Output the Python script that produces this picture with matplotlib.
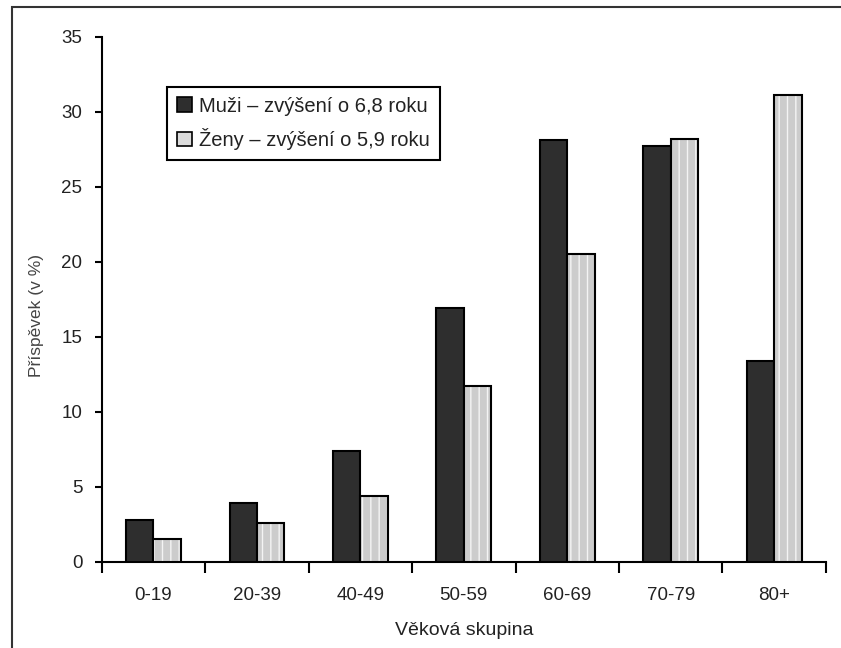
import numpy as np
import matplotlib.pyplot as plt
from matplotlib.patches import Patch, Rectangle

plt.rcParams['font.family'] = ['Liberation Sans', 'DejaVu Sans']

# data
skupiny = ['0-19', '20-39', '40-49', '50-59', '60-69', '70-79', '80+']
muzi = [2.8, 3.9, 7.4, 16.9, 28.1, 27.7, 13.4]
zeny = [1.5, 2.6, 4.4, 11.7, 20.5, 28.2, 31.1]
label_muzi = 'Muži – zvýšení o 6,8 roku'
label_zeny = 'Ženy – zvýšení o 5,9 roku'

fig = plt.figure(figsize=(8.41, 6.48), dpi=100)
ax = fig.add_axes([0.121, 0.133, 0.861, 0.81])

x = np.arange(len(skupiny))
w = 0.265
txt = '#222222'
dark = '#2e2e2e'
light = '#cccccc'

plt.rcParams['hatch.linewidth'] = 1.0

ax.bar(x - w / 2, muzi, w, color=dark, edgecolor='black', linewidth=1.5, zorder=3)
# women: light dotted fill, then a black outline on top
ax.bar(x + w / 2, zeny, w, color=light, edgecolor='#f4f4f4', hatch='||',
       linewidth=0, zorder=3)
ax.bar(x + w / 2, zeny, w, facecolor='none', edgecolor='black', linewidth=1.5, zorder=4)

ax.set_xlim(-0.5, len(skupiny) - 0.5)
ax.set_ylim(0, 35)
ax.set_yticks(np.arange(0, 36, 5))
ax.set_xticks(np.arange(len(skupiny) + 1) - 0.5)
ax.set_xticklabels([])
ax.set_xticks(x, minor=True)
ax.set_xticklabels(skupiny, minor=True)
ax.tick_params(axis='x', which='major', length=8, width=1.5, direction='out')
ax.tick_params(axis='x', which='minor', length=0, pad=18, labelsize=13.5, labelcolor=txt)
ax.tick_params(axis='y', length=5, width=1.5, direction='out', pad=9,
               labelsize=13.5, labelcolor=txt)

for s in ['top', 'right']:
    ax.spines[s].set_visible(False)
for s in ['left', 'bottom']:
    ax.spines[s].set_linewidth(1.5)

ax.set_xlabel('Věková skupina', fontsize=14, color=txt)
ax.xaxis.set_label_coords(0.5, -0.114)
ax.set_ylabel('Příspěvek (v %)', fontsize=12.5, color='#444444')
ax.yaxis.set_label_coords(-0.08, 0.47)

handles = [Patch(facecolor=dark, edgecolor='black', linewidth=1.2, label=label_muzi),
           Patch(facecolor='#dcdcdc', edgecolor='black', linewidth=1.2, label=label_zeny)]
leg = ax.legend(handles=handles, loc='upper left', bbox_to_anchor=(0.09, 0.905),
                fontsize=14.5, fancybox=False, edgecolor='black', framealpha=1,
                handlelength=0.75, handleheight=0.75, handletextpad=0.35,
                borderpad=0.5, labelspacing=0.6, borderaxespad=0)
leg.get_frame().set_linewidth(1.5)
for t in leg.get_texts():
    t.set_color(txt)

# outer frame, only the top and left edges are visible
fig.add_artist(Rectangle((12 / 841, -0.1), 1.2, 1.1 - 7 / 648, transform=fig.transFigure,
                         fill=False, edgecolor='#333333', linewidth=1.5, clip_on=False))

fig.savefig('out.png', dpi=100)
